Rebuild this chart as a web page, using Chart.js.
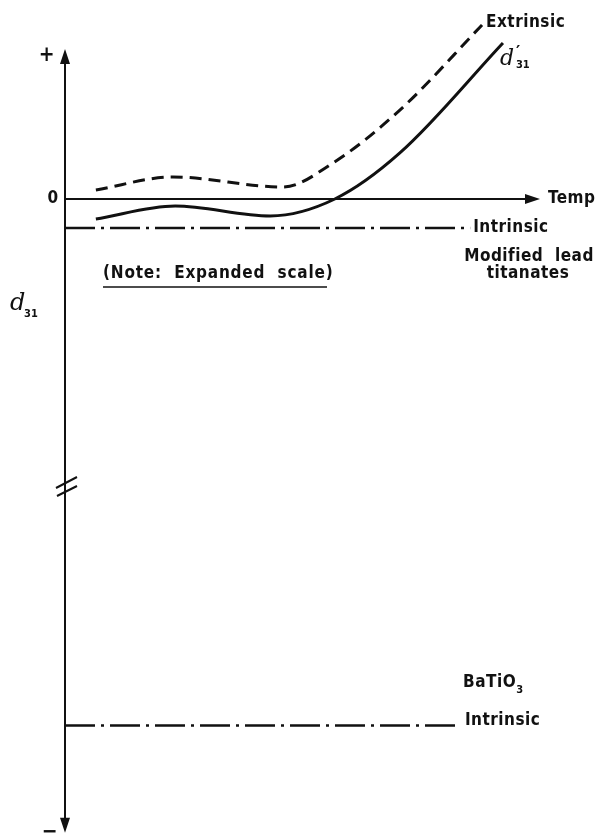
<!DOCTYPE html>
<html>
<head>
<meta charset="utf-8">
<script src="https://cdn.jsdelivr.net/npm/chart.js@4/dist/chart.umd.min.js"></script>
<style>
  html, body { margin: 0; padding: 0; background: #fff; }
  canvas { display: block; }
</style>
</head>
<body>
<canvas id="myChart" width="597" height="836"></canvas>
<script>
// temperature (arbitrary units, 0..100) and d31 (arbitrary units, zero at the Temp axis)
var extrinsicTemp = [6.5, 22.7, 45.9, 56.4, 70.5, 87.8];
var extrinsicD31  = [0.6, 1.47, 0.8, 2.4, 5.93, 11.6];

var measuredTemp = [6.5, 23.2, 43.2, 56.8, 70.5, 92.2];
var measuredD31  = [-1.33, -0.47, -1.13, 0, 3.07, 10.4];

var leadIntrinsicTemp = [0, 85.3];
var leadIntrinsicD31  = [-1.93, -1.93];

var batioIntrinsicTemp = [0, 82.5];
var batioIntrinsicD31  = [-35.1, -35.1];

function points(xs, ys) {
    return xs.map(function (x, i) { return { x: x, y: ys[i] }; });
}

var ink = '#111';
var font = '"DejaVu Sans Condensed", "DejaVu Sans", sans-serif';

function arrowHead(ctx, x, y, dir) {
    ctx.beginPath();
    if (dir === 'up') {
        ctx.moveTo(x, y); ctx.lineTo(x - 5, y + 15); ctx.lineTo(x + 5, y + 15);
    } else if (dir === 'down') {
        ctx.moveTo(x, y); ctx.lineTo(x - 5, y - 15); ctx.lineTo(x + 5, y - 15);
    } else {
        ctx.moveTo(x, y); ctx.lineTo(x - 15, y - 5); ctx.lineTo(x - 15, y + 5);
    }
    ctx.closePath();
    ctx.fill();
}

function text(ctx, str, x, y, align, size) {
    ctx.font = 'bold ' + (size || 17) + 'px ' + font;
    ctx.textAlign = align || 'left';
    ctx.textBaseline = 'middle';
    ctx.fillText(str, x, y);
    return ctx.measureText(str).width;
}

function sub(ctx, str, x, y) {
    ctx.font = 'bold 11px ' + font;
    ctx.textAlign = 'left';
    ctx.textBaseline = 'middle';
    ctx.fillText(str, x, y);
}

var sketchAxes = {
    id: 'sketchAxes',
    afterDatasetsDraw: function (chart) {
        var ctx = chart.ctx;
        var xs = chart.scales.x, ys = chart.scales.y;
        var x0 = xs.getPixelForValue(0);
        var y0 = ys.getPixelForValue(0);
        var yTop = ys.getPixelForValue(10);
        var yBot = ys.getPixelForValue(-42.25);
        var xEnd = xs.getPixelForValue(100);

        ctx.save();
        ctx.strokeStyle = ink;
        ctx.fillStyle = ink;

        // d31 axis
        ctx.lineWidth = 2;
        ctx.beginPath();
        ctx.moveTo(x0, yTop + 10);
        ctx.lineTo(x0, yBot - 10);
        ctx.stroke();
        arrowHead(ctx, x0, yTop, 'up');
        arrowHead(ctx, x0, yBot, 'down');

        // temperature axis
        ctx.lineWidth = 1.8;
        ctx.beginPath();
        ctx.moveTo(x0, y0);
        ctx.lineTo(xEnd - 10, y0);
        ctx.stroke();
        arrowHead(ctx, xEnd, y0, 'right');

        // axis break
        var yb = ys.getPixelForValue(-19.2);
        ctx.lineWidth = 2;
        ctx.beginPath();
        ctx.moveTo(x0 - 9, yb + 1); ctx.lineTo(x0 + 12, yb - 10);
        ctx.moveTo(x0 - 8, yb + 9); ctx.lineTo(x0 + 12, yb - 1);
        ctx.stroke();

        ctx.letterSpacing = '0.5px';
        text(ctx, '+', x0 - 18, yTop + 7, 'center', 21);
        text(ctx, '0', x0 - 12, y0, 'center');
        text(ctx, '\u2212', x0 - 15, yBot, 'center', 21);
        text(ctx, 'Temp', xEnd + 8, y0);

        var ext = extrinsicTemp.length - 1;
        text(ctx, 'Extrinsic', xs.getPixelForValue(extrinsicTemp[ext]) + 4,
             ys.getPixelForValue(extrinsicD31[ext]) - 2);

        // d'31 next to the measured curve
        var mx = xs.getPixelForValue(measuredTemp[measuredTemp.length - 1]);
        var my = ys.getPixelForValue(measuredD31[measuredD31.length - 1]);
        ctx.letterSpacing = '0px';
        ctx.textBaseline = 'alphabetic';
        ctx.font = 'italic 22px "DejaVu Serif", serif';
        ctx.textAlign = 'left';
        ctx.fillText('d', mx - 3, my + 22);
        ctx.font = 'bold 18px ' + font;
        ctx.fillText('\u2032', mx + 13, my + 15);
        sub(ctx, '31', mx + 13, my + 22);

        // d31 axis label
        ctx.textBaseline = 'alphabetic';
        ctx.font = 'italic 24px "DejaVu Serif", serif';
        ctx.fillText('d', 10, 310);
        sub(ctx, '31', 24, 314);

        ctx.letterSpacing = '0.5px';
        var lx = xs.getPixelForValue(leadIntrinsicTemp[1]);
        var ly = ys.getPixelForValue(leadIntrinsicD31[1]);
        text(ctx, 'Intrinsic', lx + 3, ly);
        text(ctx, 'Modified  lead', 529, ly + 29, 'center');
        text(ctx, 'titanates', 528, ly + 46, 'center');

        var bx = xs.getPixelForValue(batioIntrinsicTemp[1]);
        var by = ys.getPixelForValue(batioIntrinsicD31[1]);
        text(ctx, 'Intrinsic', bx + 8, by - 5);
        var w = text(ctx, 'BaTiO', 463, by - 43);
        sub(ctx, '3', 463 + w, by - 35);

        // note
        ctx.letterSpacing = '0.8px';
        text(ctx, '(Note:  Expanded  scale)', 103, 274);
        ctx.lineWidth = 1.6;
        ctx.beginPath();
        ctx.moveTo(103, 287);
        ctx.lineTo(327, 287);
        ctx.stroke();

        ctx.restore();
    }
};

var ctx = document.getElementById('myChart').getContext('2d');
var myChart = new Chart(ctx, {
    type: 'line',
    data: {
        datasets: [{
            label: 'Extrinsic',
            data: points(extrinsicTemp, extrinsicD31),
            borderColor: ink,
            borderWidth: 3,
            borderDash: [12, 7],
            cubicInterpolationMode: 'monotone',
            pointRadius: 0
        }, {
            label: "d'31",
            data: points(measuredTemp, measuredD31),
            borderColor: ink,
            borderWidth: 3,
            cubicInterpolationMode: 'monotone',
            pointRadius: 0
        }, {
            label: 'Intrinsic (modified lead titanates)',
            data: points(leadIntrinsicTemp, leadIntrinsicD31),
            borderColor: ink,
            borderWidth: 2.5,
            borderDash: [30, 6, 3, 6],
            pointRadius: 0
        }, {
            label: 'Intrinsic (BaTiO3)',
            data: points(batioIntrinsicTemp, batioIntrinsicD31),
            borderColor: ink,
            borderWidth: 2.5,
            borderDash: [30, 6, 3, 6],
            pointRadius: 0
        }]
    },
    options: {
        responsive: false,
        animation: false,
        layout: {
            padding: { left: 65, right: 57, top: 4, bottom: 7 }
        },
        plugins: {
            legend: { display: false },
            tooltip: { enabled: false }
        },
        scales: {
            x: { type: 'linear', min: 0, max: 100, display: false },
            y: { type: 'linear', min: -42, max: 13, display: false }
        }
    },
    plugins: [sketchAxes]
});
</script>
</body>
</html>
